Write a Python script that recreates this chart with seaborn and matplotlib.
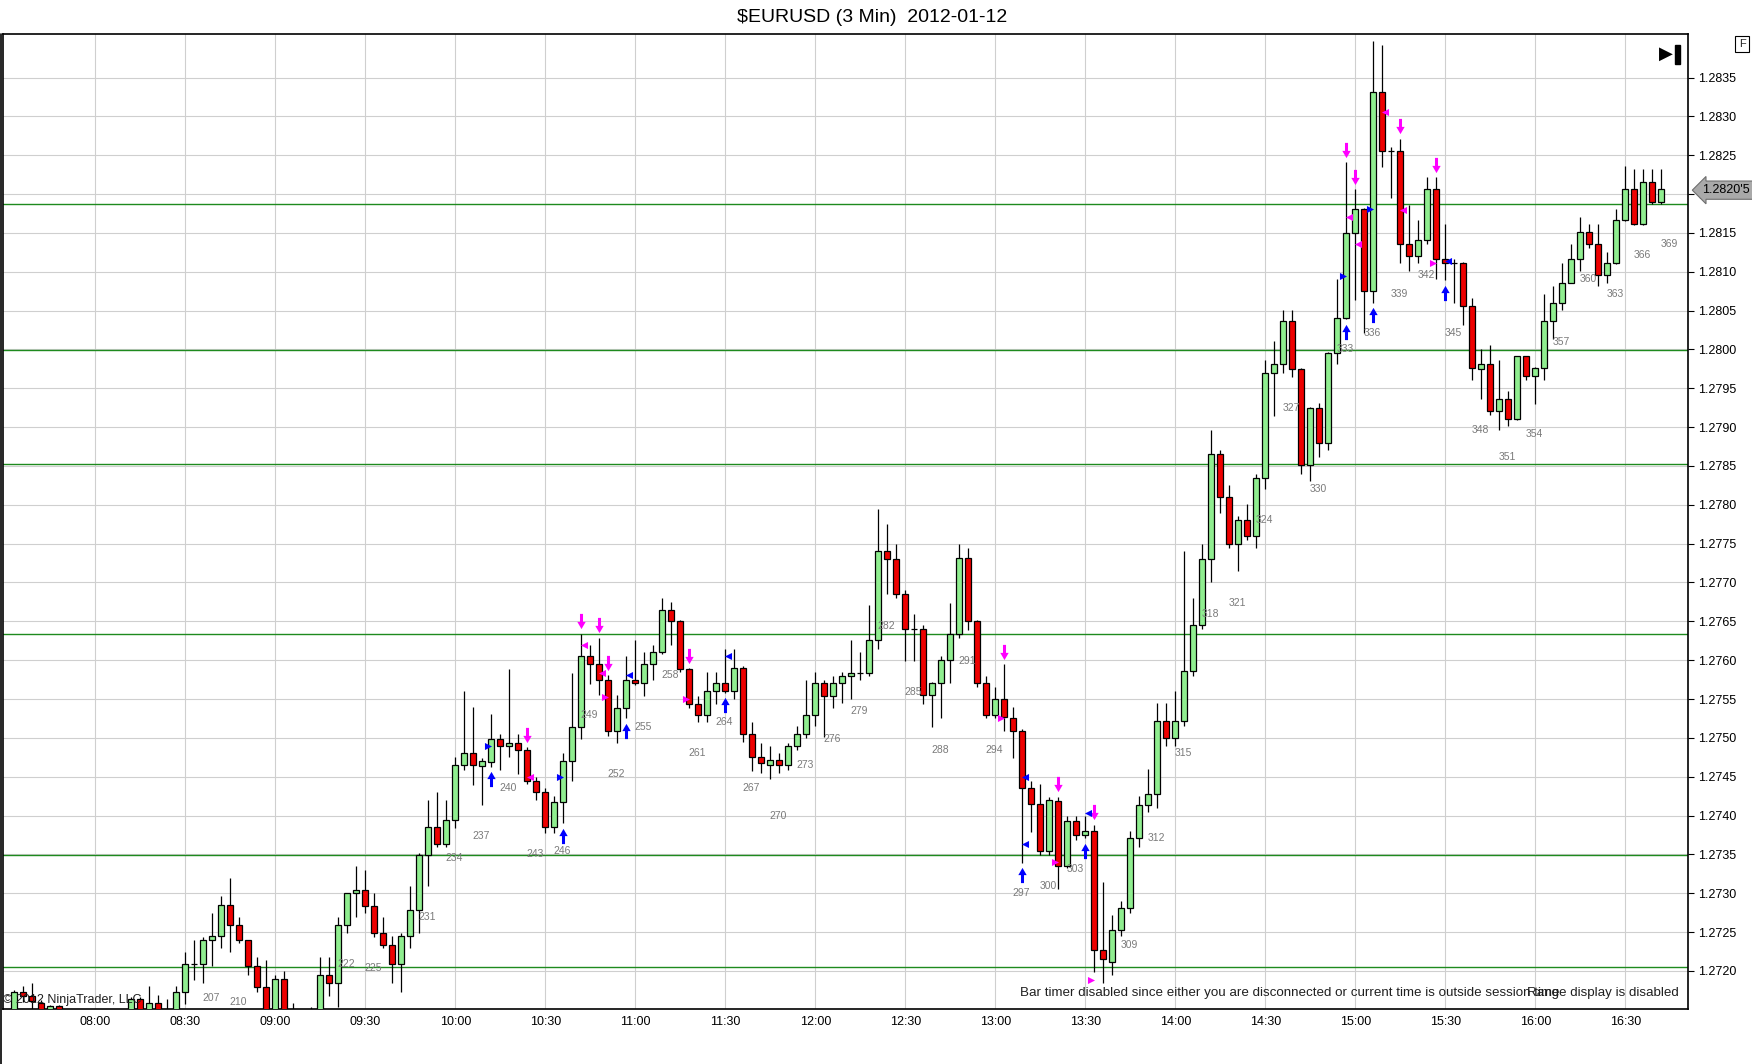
import matplotlib
matplotlib.use("Agg")
import matplotlib.pyplot as plt
import matplotlib.transforms as mtransforms
from matplotlib.path import Path
from matplotlib.patches import Rectangle
from matplotlib.lines import Line2D
import seaborn as sns
import pandas as pd

# 3 minute bars, numbered like the chart (first visible bar is 186)
first_bar = 186

opens = [
    1.27140, 1.27173, 1.27168, 1.27159, 1.27150, 1.27155, 1.27140, 1.27130, 1.27138, 1.27125,  # 186
    1.27135, 1.27128, 1.27136, 1.27135, 1.27164, 1.27140, 1.27159, 1.27140, 1.27140, 1.27173,  # 196
    1.27209, 1.27209, 1.27240, 1.27245, 1.27285, 1.27259, 1.27240, 1.27206, 1.27179, 1.27140,  # 206
    1.27189, 1.27140, 1.27130, 1.27138, 1.27140, 1.27195, 1.27184, 1.27259, 1.27300, 1.27304,  # 216
    1.27284, 1.27249, 1.27234, 1.27209, 1.27245, 1.27279, 1.27349, 1.27385, 1.27364, 1.27394,  # 226
    1.27465, 1.27480, 1.27464, 1.27469, 1.27499, 1.27489, 1.27494, 1.27485, 1.27445, 1.27430,  # 236
    1.27385, 1.27418, 1.27470, 1.27514, 1.27605, 1.27595, 1.27575, 1.27509, 1.27539, 1.27575,  # 246
    1.27570, 1.27595, 1.27610, 1.27665, 1.27650, 1.27589, 1.27544, 1.27530, 1.27560, 1.27570,  # 256
    1.27560, 1.27590, 1.27505, 1.27476, 1.27465, 1.27472, 1.27465, 1.27490, 1.27505, 1.27530,  # 266
    1.27570, 1.27554, 1.27570, 1.27580, 1.27584, 1.27584, 1.27626, 1.27740, 1.27730, 1.27685,  # 276
    1.27640, 1.27640, 1.27555, 1.27570, 1.27600, 1.27634, 1.27731, 1.27650, 1.27570, 1.27530,  # 286
    1.27550, 1.27525, 1.27509, 1.27435, 1.27415, 1.27354, 1.27419, 1.27335, 1.27393, 1.27375,  # 296
    1.27380, 1.27227, 1.27212, 1.27253, 1.27281, 1.27371, 1.27414, 1.27428, 1.27522, 1.27500,  # 306
    1.27522, 1.27586, 1.27645, 1.27730, 1.27865, 1.27810, 1.27750, 1.27780, 1.27760, 1.27835,  # 316
    1.27970, 1.27981, 1.28036, 1.27975, 1.27851, 1.27925, 1.27880, 1.27996, 1.28041, 1.28150,  # 326
    1.28181, 1.28075, 1.28331, 1.28255, 1.28255, 1.28136, 1.28120, 1.28141, 1.28206, 1.28116,  # 336
    1.28111, 1.28111, 1.28056, 1.27975, 1.27981, 1.27921, 1.27936, 1.27910, 1.27991, 1.27966,  # 346
    1.27976, 1.28036, 1.28060, 1.28086, 1.28116, 1.28151, 1.28136, 1.28096, 1.28111, 1.28166,  # 356
    1.28206, 1.28161, 1.28216, 1.28190,                                                        # 366
]
highs = [
    1.27175, 1.27180, 1.27184, 1.27162, 1.27156, 1.27156, 1.27148, 1.27145, 1.27146, 1.27140,
    1.27145, 1.27140, 1.27148, 1.27166, 1.27166, 1.27180, 1.27169, 1.27164, 1.27180, 1.27224,
    1.27240, 1.27244, 1.27275, 1.27296, 1.27319, 1.27269, 1.27240, 1.27218, 1.27214, 1.27195,
    1.27200, 1.27159, 1.27145, 1.27154, 1.27218, 1.27218, 1.27269, 1.27300, 1.27335, 1.27330,
    1.27300, 1.27269, 1.27245, 1.27249, 1.27309, 1.27352, 1.27420, 1.27430, 1.27420, 1.27476,
    1.27560, 1.27540, 1.27474, 1.27531, 1.27505, 1.27589, 1.27505, 1.27488, 1.27450, 1.27435,
    1.27425, 1.27480, 1.27584, 1.27634, 1.27620, 1.27629, 1.27581, 1.27555, 1.27605, 1.27626,
    1.27610, 1.27620, 1.27680, 1.27675, 1.27652, 1.27590, 1.27554, 1.27585, 1.27585, 1.27614,
    1.27615, 1.27592, 1.27520, 1.27494, 1.27490, 1.27480, 1.27494, 1.27515, 1.27575, 1.27585,
    1.27575, 1.27580, 1.27585, 1.27626, 1.27611, 1.27671, 1.27795, 1.27775, 1.27750, 1.27690,
    1.27660, 1.27645, 1.27572, 1.27605, 1.27674, 1.27749, 1.27745, 1.27652, 1.27580, 1.27566,
    1.27595, 1.27540, 1.27512, 1.27444, 1.27441, 1.27424, 1.27424, 1.27399, 1.27399, 1.27400,
    1.27388, 1.27314, 1.27272, 1.27290, 1.27380, 1.27425, 1.27460, 1.27545, 1.27545, 1.27560,
    1.27740, 1.27680, 1.27750, 1.27896, 1.27870, 1.27825, 1.27785, 1.27801, 1.27840, 1.27986,
    1.28011, 1.28051, 1.28051, 1.27976, 1.27926, 1.27931, 1.27997, 1.28091, 1.28241, 1.28206,
    1.28182, 1.28397, 1.28392, 1.28261, 1.28271, 1.28186, 1.28166, 1.28222, 1.28222, 1.28161,
    1.28116, 1.28112, 1.28066, 1.28001, 1.28006, 1.27986, 1.27946, 1.27991, 1.27992, 1.27977,
    1.28071, 1.28081, 1.28111, 1.28136, 1.28171, 1.28161, 1.28161, 1.28126, 1.28181, 1.28236,
    1.28232, 1.28232, 1.28232, 1.28232,
]
lows = [
    1.27120, 1.27160, 1.27150, 1.27130, 1.27140, 1.27130, 1.27120, 1.27115, 1.27120, 1.27110,
    1.27120, 1.27115, 1.27125, 1.27125, 1.27125, 1.27125, 1.27125, 1.27120, 1.27130, 1.27158,
    1.27188, 1.27184, 1.27206, 1.27229, 1.27224, 1.27236, 1.27195, 1.27173, 1.27120, 1.27120,
    1.27120, 1.27110, 1.27110, 1.27115, 1.27125, 1.27168, 1.27154, 1.27249, 1.27269, 1.27274,
    1.27244, 1.27229, 1.27184, 1.27173, 1.27229, 1.27249, 1.27309, 1.27360, 1.27360, 1.27384,
    1.27459, 1.27439, 1.27414, 1.27463, 1.27459, 1.27475, 1.27454, 1.27440, 1.27420, 1.27378,
    1.27378, 1.27390, 1.27445, 1.27499, 1.27569, 1.27555, 1.27503, 1.27494, 1.27525, 1.27568,
    1.27554, 1.27575, 1.27608, 1.27620, 1.27585, 1.27539, 1.27520, 1.27520, 1.27544, 1.27558,
    1.27550, 1.27495, 1.27457, 1.27455, 1.27447, 1.27455, 1.27458, 1.27485, 1.27500, 1.27515,
    1.27501, 1.27539, 1.27545, 1.27550, 1.27575, 1.27580, 1.27615, 1.27685, 1.27680, 1.27599,
    1.27599, 1.27544, 1.27514, 1.27525, 1.27570, 1.27629, 1.27639, 1.27565, 1.27525, 1.27525,
    1.27509, 1.27474, 1.27339, 1.27379, 1.27349, 1.27349, 1.27306, 1.27332, 1.27369, 1.27371,
    1.27199, 1.27184, 1.27195, 1.27245, 1.27275, 1.27360, 1.27405, 1.27410, 1.27490, 1.27490,
    1.27515, 1.27580, 1.27640, 1.27700, 1.27790, 1.27745, 1.27715, 1.27755, 1.27745, 1.27820,
    1.27914, 1.27970, 1.27965, 1.27840, 1.27830, 1.27861, 1.27870, 1.27981, 1.28039, 1.28064,
    1.28021, 1.28060, 1.28235, 1.28195, 1.28111, 1.28101, 1.28111, 1.28136, 1.28091, 1.28089,
    1.28060, 1.28031, 1.27961, 1.27936, 1.27915, 1.27896, 1.27901, 1.27909, 1.27961, 1.27930,
    1.27961, 1.28014, 1.28051, 1.28085, 1.28101, 1.28131, 1.28081, 1.28086, 1.28110, 1.28165,
    1.28160, 1.28160, 1.28187, 1.28187,
]
closes = [
    1.27173, 1.27168, 1.27161, 1.27140, 1.27155, 1.27140, 1.27130, 1.27138, 1.27125, 1.27135,
    1.27128, 1.27136, 1.27140, 1.27164, 1.27140, 1.27159, 1.27140, 1.27145, 1.27173, 1.27209,
    1.27209, 1.27240, 1.27245, 1.27285, 1.27259, 1.27240, 1.27206, 1.27179, 1.27140, 1.27189,
    1.27140, 1.27130, 1.27138, 1.27140, 1.27195, 1.27184, 1.27259, 1.27300, 1.27304, 1.27284,
    1.27249, 1.27234, 1.27209, 1.27245, 1.27279, 1.27349, 1.27385, 1.27364, 1.27394, 1.27465,
    1.27480, 1.27465, 1.27470, 1.27499, 1.27489, 1.27494, 1.27485, 1.27445, 1.27430, 1.27385,
    1.27418, 1.27470, 1.27514, 1.27605, 1.27595, 1.27575, 1.27509, 1.27539, 1.27575, 1.27570,
    1.27595, 1.27610, 1.27665, 1.27650, 1.27589, 1.27544, 1.27530, 1.27560, 1.27570, 1.27560,
    1.27590, 1.27505, 1.27476, 1.27468, 1.27472, 1.27465, 1.27490, 1.27505, 1.27530, 1.27570,
    1.27554, 1.27570, 1.27580, 1.27584, 1.27584, 1.27626, 1.27740, 1.27730, 1.27685, 1.27640,
    1.27640, 1.27555, 1.27570, 1.27600, 1.27634, 1.27731, 1.27650, 1.27570, 1.27530, 1.27550,
    1.27527, 1.27509, 1.27435, 1.27415, 1.27354, 1.27420, 1.27335, 1.27393, 1.27375, 1.27380,
    1.27227, 1.27216, 1.27253, 1.27281, 1.27371, 1.27414, 1.27428, 1.27522, 1.27500, 1.27522,
    1.27586, 1.27645, 1.27730, 1.27865, 1.27810, 1.27750, 1.27780, 1.27760, 1.27835, 1.27970,
    1.27981, 1.28036, 1.27975, 1.27851, 1.27925, 1.27880, 1.27996, 1.28041, 1.28150, 1.28181,
    1.28075, 1.28331, 1.28255, 1.28255, 1.28136, 1.28120, 1.28141, 1.28206, 1.28116, 1.28111,
    1.28111, 1.28056, 1.27976, 1.27981, 1.27921, 1.27936, 1.27910, 1.27991, 1.27966, 1.27976,
    1.28036, 1.28060, 1.28086, 1.28116, 1.28151, 1.28136, 1.28096, 1.28111, 1.28166, 1.28206,
    1.28161, 1.28216, 1.28190, 1.28206,
]

# horizontal pivot lines
levels = [1.28187, 1.27999, 1.27852, 1.27634, 1.27349, 1.27205]

time_bars = [195, 205, 215, 225, 235, 245, 255, 265, 275, 285, 295, 305, 315, 325, 335, 345, 355, 365]
time_labels = ["08:00", "08:30", "09:00", "09:30", "10:00", "10:30", "11:00", "11:30", "12:00",
               "12:30", "13:00", "13:30", "14:00", "14:30", "15:00", "15:30", "16:00", "16:30"]
price_ticks = [1.2720, 1.2725, 1.2730, 1.2735, 1.2740, 1.2745, 1.2750, 1.2755, 1.2760, 1.2765,
               1.2770, 1.2775, 1.2780, 1.2785, 1.2790, 1.2795, 1.2800, 1.2805, 1.2810, 1.2815,
               1.2820, 1.2825, 1.2830, 1.2835]

# bar counter labels (every 3rd bar) and where they sit
label_bars = [207, 210, 222, 225, 231, 234, 237, 240, 243, 246, 249, 252, 255, 258, 261, 264, 267,
              270, 273, 276, 279, 282, 285, 288, 291, 294, 297, 300, 303, 309, 312, 315, 318, 321,
              324, 327, 330, 333, 336, 339, 342, 345, 348, 351, 354, 357, 360, 363, 366, 369]
label_levels = [1.27165, 1.27160, 1.27209, 1.27204, 1.27269, 1.27345, 1.27374, 1.27435, 1.27350,
                1.27355, 1.27530, 1.27454, 1.27514, 1.27581, 1.27480, 1.27520, 1.27436, 1.27400,
                1.27465, 1.27499, 1.27534, 1.27644, 1.27559, 1.27485, 1.27599, 1.27485, 1.27300,
                1.27309, 1.27331, 1.27234, 1.27371, 1.27480, 1.27660, 1.27674, 1.27780, 1.27925,
                1.27820, 1.28001, 1.28021, 1.28071, 1.28096, 1.28021, 1.27896, 1.27861, 1.27891,
                1.28010, 1.28091, 1.28071, 1.28121, 1.28136]

# signal arrows
down_arrow_bars = [243, 249, 251, 252, 261, 296, 302, 306, 334, 335, 340, 344]
up_arrow_bars = [239, 247, 254, 265, 298, 305, 334, 337, 345]

# small signal triangles
blue_tri_bars = [239, 247, 254, 265, 298, 298, 305, 334, 337, 345]
blue_tri_prices = [1.27489, 1.27450, 1.27581, 1.27605, 1.27449, 1.27364, 1.27403, 1.28095, 1.28181, 1.28114]
blue_tri_dirs = [">", ">", "<", "<", "<", "<", "<", ">", ">", "<"]
pink_tri_bars = [243, 249, 251, 252, 261, 296, 302, 306, 334, 335, 338, 340, 344]
pink_tri_prices = [1.27449, 1.27620, 1.27584, 1.27552, 1.27550, 1.27525, 1.27340, 1.27188,
                   1.28171, 1.28136, 1.28306, 1.28180, 1.28111]
pink_tri_dirs = ["<", "<", "<", ">", ">", ">", ">", ">", "<", "<", "<", "<", ">"]

last_price = 1.28205
last_price_text = "1.2820'5"

# ---------------------------------------------------------------
sns.set_style("white")
plt.rcParams['font.family'] = ['Liberation Sans', 'DejaVu Sans']

df = pd.DataFrame({"open": opens, "high": highs, "low": lows, "close": closes})
df["bar"] = range(first_bar, first_bar + len(df))

W, H = 1752, 1064
fig = plt.figure(figsize=(W / 100, H / 100), dpi=100)
ax = fig.add_axes([3 / W, 1 - 1009 / H, 1685 / W, 975 / H])

ax.set_xlim(184.74, 371.97)
ax.set_ylim(1.27151, 1.28406)

# grid
ax.set_xticks(time_bars)
ax.set_xticklabels(time_labels)
ax.set_yticks(price_ticks)
ax.set_yticklabels([f"{p:.4f}" for p in price_ticks])
ax.grid(True, color="#CFCFCF", linewidth=0.8)
ax.set_axisbelow(True)

for lv in levels:
    ax.axhline(lv, color="#1E8A1E", linewidth=1.0, zorder=1.5)

# candles
body_colors = ["#90EE90" if c >= o else "#EE0000" for o, c in zip(df.open, df.close)]
ax.vlines(df.bar, df.low, df.high, colors="black", linewidth=0.9, zorder=3)
ax.bar(df.bar, (df.close - df.open).abs(), bottom=df[["open", "close"]].min(axis=1),
       width=0.7, color=body_colors, edgecolor="black", linewidth=0.9, zorder=4)

# bar counter
for b, lv in zip(label_bars, label_levels):
    ax.text(b - 0.05, lv, str(b), fontsize=7.5, color="#7A7A7A", ha="left", va="center",
            zorder=5, clip_on=True)

# arrow markers
down_arrow = Path([(-0.2, 1.0), (0.2, 1.0), (0.2, -0.05), (0.55, -0.05), (0.0, -1.0),
                   (-0.55, -0.05), (-0.2, -0.05), (-0.2, 1.0)],
                  [Path.MOVETO] + [Path.LINETO] * 6 + [Path.CLOSEPOLY])
up_arrow = Path([(x, -y) for x, y in down_arrow.vertices], down_arrow.codes)

hi = df.set_index("bar")["high"]
lo = df.set_index("bar")["low"]
sns.scatterplot(x=down_arrow_bars, y=[hi[b] + 0.00016 for b in down_arrow_bars], marker=down_arrow,
                s=120, color="#FF00FF", linewidth=0, ax=ax, zorder=6)
sns.scatterplot(x=up_arrow_bars, y=[lo[b] - 0.00016 for b in up_arrow_bars], marker=up_arrow,
                s=120, color="#0000FF", linewidth=0, ax=ax, zorder=6)

tri = pd.DataFrame({
    "bar": blue_tri_bars + pink_tri_bars,
    "price": blue_tri_prices + pink_tri_prices,
    "dir": blue_tri_dirs + pink_tri_dirs,
    "color": ["#0000FF"] * len(blue_tri_bars) + ["#FF00FF"] * len(pink_tri_bars),
})
tri["x"] = tri["bar"] + tri["dir"].map({">": -0.35, "<": 0.35})
for (d, c), grp in tri.groupby(["dir", "color"]):
    sns.scatterplot(x=grp["x"], y=grp["price"], marker=d, s=26, color=c, linewidth=0,
                    ax=ax, zorder=6)

# axes styling
for sp in ax.spines.values():
    sp.set_color("black")
    sp.set_linewidth(1.2)
ax.yaxis.tick_right()
ax.tick_params(axis="y", length=4, width=0.8, labelsize=9, pad=3, colors="black")
ax.tick_params(axis="x", length=0, labelsize=9, pad=5, colors="black")
ax.set_xlabel("")
ax.set_ylabel("")

# last price tag on the price axis (covers the 1.2820 tick like the platform does)
trans = mtransforms.blended_transform_factory(ax.transAxes, ax.transData)
ax.text(1.0085, last_price, last_price_text, transform=trans, ha="left", va="center",
        fontsize=9, color="black", clip_on=False, zorder=10,
        bbox=dict(boxstyle="larrow,pad=0.25", fc="#A9A9A9", ec="#6E6E6E", lw=0.8))

# "go to last bar" icon
ax.text(0.9868, 0.9795, "\u25B6", transform=ax.transAxes, ha="center", va="center",
        fontsize=13, family="DejaVu Sans", color="black", zorder=10)
ax.add_patch(Rectangle((0.9925, 0.9695), 0.003, 0.0195, transform=ax.transAxes,
                       color="black", zorder=10))

# texts around the chart
fig.text(872 / W, 1 - 17 / H, "\\$EURUSD (3 Min)  2012-01-12", ha="center", va="center",
         fontsize=14, color="black")
fig.text(1742 / W, 1 - 44 / H, "F", ha="center", va="center", fontsize=8,
         bbox=dict(boxstyle="square,pad=0.3", fc="white", ec="black", lw=0.8))
fig.text(3 / W, 1 - 1000 / H, "\u00a9 2012 NinjaTrader, LLC", ha="left", va="center",
         fontsize=9, color="#202020")
fig.text(1020 / W, 1 - 993 / H,
         "Bar timer disabled since either you are disconnected or current time is outside session time",
         ha="left", va="center", fontsize=9.6, color="#202020")
fig.text(1679 / W, 1 - 993 / H, "Range display is disabled", ha="right", va="center",
         fontsize=9.6, color="#202020")
fig.add_artist(Line2D([1 / W, 1 / W], [0, 1 - 34 / H], color="black", linewidth=1.2))

fig.savefig("out.png", dpi=100)
